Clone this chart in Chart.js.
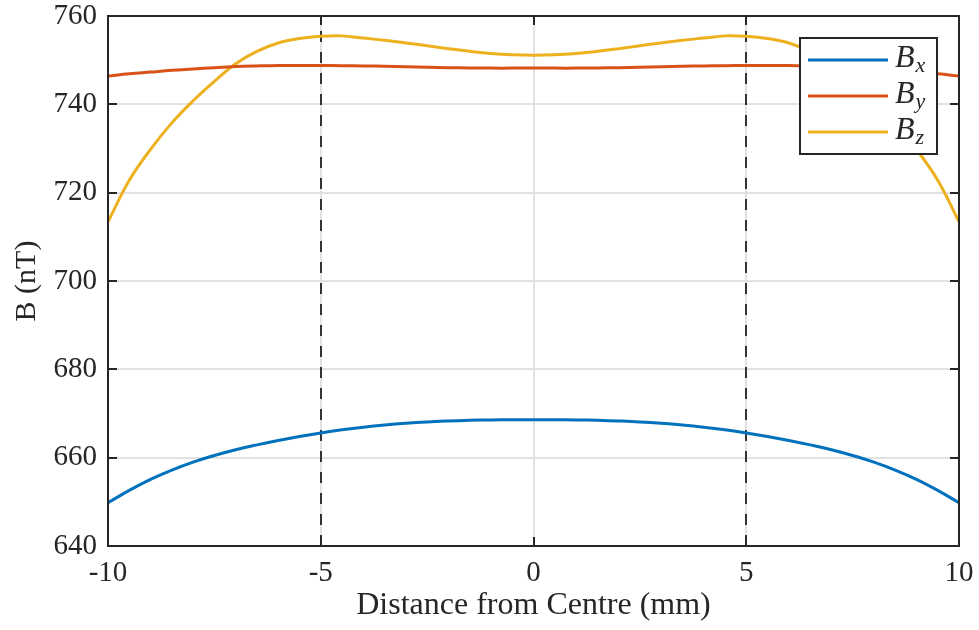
<!DOCTYPE html>
<html>
<head>
<meta charset="utf-8">
<script src="https://cdn.jsdelivr.net/npm/chart.js@4/dist/chart.umd.min.js"></script>
<style>
  body { margin: 0; background: #fff; }
  canvas { display: block; }
</style>
</head>
<body>
<canvas id="myChart" width="979" height="630"></canvas>
<script>
// distance from centre (mm)
var xs = [-10, -9.5, -9, -8.5, -8, -7.5, -7, -6.5, -6, -5.5, -5, -4.5, -4, -3.5, -3, -2.5, -2, -1.5, -1, -0.5,
          0, 0.5, 1, 1.5, 2, 2.5, 3, 3.5, 4, 4.5, 5, 5.5, 6, 6.5, 7, 7.5, 8, 8.5, 9, 9.5, 10];

// field components (nT)
var bx = [649.8, 652.6, 655.1, 657.2, 659.0, 660.5, 661.8, 662.9, 663.9, 664.8, 665.6, 666.3, 666.9, 667.4, 667.8, 668.1, 668.3, 668.45, 668.55, 668.6,
          668.6, 668.6, 668.55, 668.45, 668.3, 668.1, 667.8, 667.4, 666.9, 666.3, 665.6, 664.8, 663.9, 662.9, 661.8, 660.5, 659.0, 657.2, 655.1, 652.6, 649.8];
var by = [746.4, 746.9, 747.3, 747.7, 748.0, 748.3, 748.55, 748.7, 748.8, 748.8, 748.8, 748.75, 748.7, 748.6, 748.5, 748.4, 748.3, 748.25, 748.2, 748.2,
          748.2, 748.2, 748.2, 748.25, 748.3, 748.4, 748.5, 748.6, 748.7, 748.75, 748.8, 748.8, 748.8, 748.7, 748.55, 748.3, 748.0, 747.7, 747.3, 746.9, 746.4];
var bz = [713.4, 722.8, 729.8, 735.8, 740.8, 745.2, 749.2, 752.0, 753.9, 754.9, 755.4, 755.5, 755.0, 754.5, 753.9, 753.25, 752.6, 752.0, 751.5, 751.2,
          751.1, 751.2, 751.5, 752.0, 752.6, 753.25, 753.9, 754.5, 755.0, 755.5, 755.4, 754.9, 753.9, 752.0, 749.2, 745.2, 740.8, 735.8, 729.8, 722.8, 713.4];

var seriesNames = ["B", "B", "B"];
var seriesSubs = ["x", "y", "z"];
var seriesColors = ["#0072BD", "#D95319", "#EDB120"];

var xTicks = [-10, -5, 0, 5, 10];
var yTicks = [640, 660, 680, 700, 720, 740, 760];
var markers = [-5, 5];

var serif = "'Liberation Serif', 'Times New Roman', serif";
var axisColor = "#262626";

function pts(ys) {
    return xs.map(function (x, i) { return { x: x, y: ys[i] }; });
}

// dashed markers at +-5 mm, drawn under the curves
var markerPlugin = {
    id: "markers",
    beforeDatasetsDraw: function (chart) {
        var ctx = chart.ctx, a = chart.chartArea, sx = chart.scales.x;
        ctx.save();
        ctx.strokeStyle = "#333333";
        ctx.lineWidth = 2;
        ctx.setLineDash([11, 10]);
        markers.forEach(function (m) {
            var px = Math.round(sx.getPixelForValue(m));
            ctx.beginPath();
            ctx.moveTo(px, a.bottom);
            ctx.lineTo(px, a.top);
            ctx.stroke();
        });
        ctx.restore();
    }
};

// matlab style box with inward ticks, plus the legend
var boxPlugin = {
    id: "box",
    afterDatasetsDraw: function (chart) {
        var ctx = chart.ctx, a = chart.chartArea;
        var sx = chart.scales.x, sy = chart.scales.y;
        var tl = 9;
        ctx.save();
        ctx.strokeStyle = axisColor;
        ctx.lineWidth = 2;
        ctx.setLineDash([]);
        ctx.strokeRect(a.left, a.top, a.right - a.left, a.bottom - a.top);
        ctx.beginPath();
        xTicks.forEach(function (t) {
            var px = Math.round(sx.getPixelForValue(t));
            ctx.moveTo(px, a.bottom); ctx.lineTo(px, a.bottom - tl);
            ctx.moveTo(px, a.top); ctx.lineTo(px, a.top + tl);
        });
        yTicks.forEach(function (t) {
            var py = Math.round(sy.getPixelForValue(t));
            ctx.moveTo(a.left, py); ctx.lineTo(a.left + tl, py);
            ctx.moveTo(a.right, py); ctx.lineTo(a.right - tl, py);
        });
        ctx.stroke();

        // legend
        var lx = 800, ly = 38, lw = 137, lh = 116;
        ctx.fillStyle = "#ffffff";
        ctx.fillRect(lx, ly, lw, lh);
        ctx.strokeRect(lx, ly, lw, lh);
        chart.data.datasets.forEach(function (ds, i) {
            var rowY = 60 + i * 36;
            ctx.strokeStyle = ds.borderColor;
            ctx.lineWidth = 3;
            ctx.beginPath();
            ctx.moveTo(808, rowY);
            ctx.lineTo(888, rowY);
            ctx.stroke();
            ctx.fillStyle = axisColor;
            ctx.textBaseline = "alphabetic";
            ctx.textAlign = "left";
            ctx.font = "italic 32px " + serif;
            ctx.fillText(seriesNames[i], 895, rowY + 7);
            var w = ctx.measureText(seriesNames[i]).width;
            ctx.font = "italic 22px " + serif;
            ctx.fillText(seriesSubs[i], 895 + w + 1, rowY + 12);
        });
        ctx.restore();
    }
};

var ctx = document.getElementById("myChart");
var myChart = new Chart(ctx, {
    type: "line",
    data: {
        datasets: [0, 1, 2].map(function (i) {
            return {
                label: seriesNames[i] + seriesSubs[i],
                data: pts([bx, by, bz][i]),
                borderColor: seriesColors[i],
                backgroundColor: seriesColors[i],
                borderWidth: 3,
                pointRadius: 0,
                tension: 0.4,
                fill: false
            };
        })
    },
    options: {
        responsive: false,
        devicePixelRatio: 1,
        animation: false,
        layout: { padding: { top: 16, right: 20, left: 0, bottom: 0 } },
        plugins: { legend: { display: false }, tooltip: { enabled: false } },
        scales: {
            x: {
                type: "linear",
                min: -10,
                max: 10,
                afterBuildTicks: function (s) { s.ticks = xTicks.map(function (v) { return { value: v }; }); },
                afterFit: function (s) { s.height = 84; s.paddingLeft = 0; s.paddingRight = 0; },
                grid: { color: "#e2e2e2", lineWidth: 2, drawTicks: false },
                border: { display: false },
                ticks: {
                    padding: 10,
                    color: axisColor,
                    font: { family: serif, size: 29 },
                    maxRotation: 0,
                    callback: function (v) { return String(v); }
                },
                title: {
                    display: true,
                    text: "Distance from Centre (mm)",
                    color: axisColor,
                    font: { family: serif, size: 32 },
                    padding: { top: 0, bottom: 5 }
                }
            },
            y: {
                min: 640,
                max: 760,
                afterBuildTicks: function (s) { s.ticks = yTicks.map(function (v) { return { value: v }; }); },
                afterFit: function (s) { s.width = 108; s.paddingTop = 0; s.paddingBottom = 0; },
                grid: { color: "#e2e2e2", lineWidth: 2, drawTicks: false },
                border: { display: false },
                ticks: {
                    padding: 11,
                    color: axisColor,
                    font: { family: serif, size: 29 }
                },
                title: {
                    display: true,
                    text: "B (nT)",
                    color: axisColor,
                    font: { family: serif, size: 30 },
                    padding: { top: 9, bottom: 0 }
                }
            }
        }
    },
    plugins: [markerPlugin, boxPlugin]
});
</script>
</body>
</html>
